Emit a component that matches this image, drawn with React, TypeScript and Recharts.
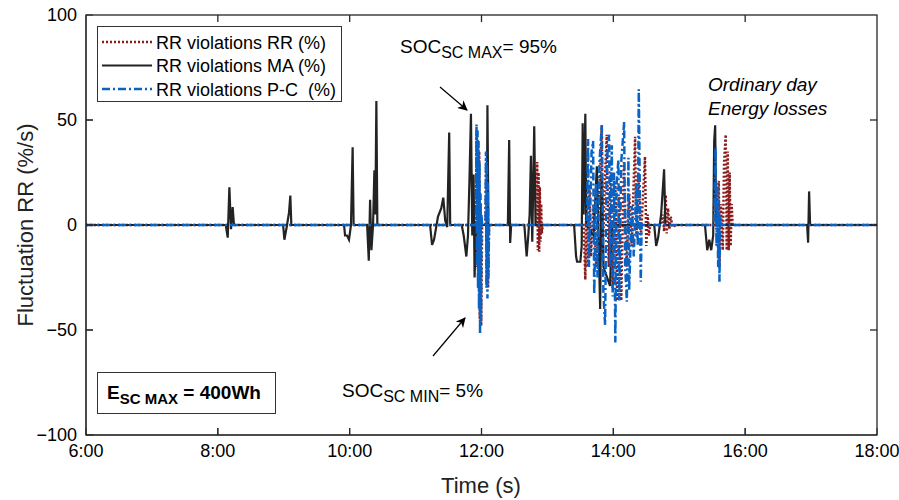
import React from "react";
import { LineChart, Line, XAxis, YAxis } from "recharts";

// time of day (h) / fluctuation (%/s)
const hourTicks = [6, 8, 10, 12, 14, 16, 18];
const rrTicks = [-100, -50, 0, 50, 100];

const maSeries: [number, number][] = [
  [6, 0],
  [8.12, 0], [8.15, -6], [8.175, 18], [8.2, -2], [8.225, 8.5], [8.245, 0],
  [8.99, 0], [9.01, -7], [9.05, 0], [9.08, 6], [9.1, 14], [9.115, 0],
  [9.915, 0], [9.93, -5], [9.96, -5], [9.99, -7], [10.02, 0], [10.045, 37], [10.06, 0],
  [10.265, 0], [10.29, -17], [10.31, 12], [10.33, -12], [10.355, 0], [10.375, 26], [10.39, 5], [10.405, 59], [10.42, 0],
  [11.22, 0], [11.25, -9.5], [11.28, -7], [11.34, 4], [11.39, 8], [11.42, 13], [11.45, 2], [11.48, -1], [11.51, 44], [11.525, 0],
  [11.7, 0], [11.73, -5], [11.77, -15], [11.795, -5], [11.82, 25], [11.84, 53], [11.86, -5], [11.88, 24], [11.895, -25], [11.92, 0],
  [12.07, 0], [12.08, -9], [12.09, 57], [12.105, 0],
  [12.4, 0], [12.42, 40.5], [12.435, -8.6], [12.45, 0],
  [12.65, 0], [12.685, -15], [12.71, -5], [12.73, 5], [12.75, 33], [12.77, -8], [12.8, 47], [12.82, 0],
  [13.405, 0], [13.435, -15], [13.45, -17.5], [13.5, -17.5], [13.52, -10], [13.535, 48.5], [13.55, 5], [13.575, 53], [13.59, 0],
  [13.7, -5], [13.75, 28], [13.8, -40], [13.82, 25], [13.85, -20], [13.95, -29], [13.98, 0],
  [14.62, 0], [14.65, -10], [14.68, -6], [14.725, 5], [14.77, 26.5], [14.79, 0],
  [15.39, 0], [15.425, -12], [15.455, -7], [15.485, -12], [15.515, -5], [15.53, 40], [15.545, 47.5], [15.56, 0],
  [16.94, 0], [16.955, -8.4], [16.97, 16], [16.985, 0],
  [18, 0],
];

const pcSeries: [number, number][] = [
  [6, 0],
  [11.915, 0], [11.925, 48], [11.93, -20], [11.94, 45], [11.947, -30], [11.955, 40], [11.962, -40], [11.97, 30], [11.978, -52], [11.985, 15], [11.993, -45], [12.0, 5], [12.01, 0],
  [12.06, 0], [12.068, 35], [12.075, -30], [12.082, 30], [12.09, -35], [12.097, 20], [12.105, -25], [12.115, 0],
  [13.6, 0], [13.617, 41], [13.63, -20], [13.67, 35], [13.693, 40], [13.71, -33], [13.74, 20], [13.76, -25], [13.79, 30], [13.825, 47.6],
  [13.85, -33], [13.875, -47.6], [13.9, 30], [13.936, 43], [13.95, -20], [13.977, 38], [13.99, -34], [14.01, 25], [14.03, -56], [14.05, 20],
  [14.077, 31], [14.09, -36], [14.12, 30], [14.164, 49], [14.18, -20], [14.205, -36.5], [14.229, 32], [14.24, -31], [14.28, 9], [14.31, -15],
  [14.35, 20], [14.37, -10], [14.386, 64.6], [14.416, -27], [14.43, 0],
  [15.53, 0], [15.55, 37], [15.565, -10], [15.575, 20], [15.59, -20], [15.6, 12], [15.61, -27], [15.62, 5], [15.63, 0],
  [18, 0],
];

const rrSeries: [number, number][] = [
  [6, 0],
  [11.915, 0], [11.925, 45], [11.935, -20], [11.945, 40], [11.955, -30], [11.965, 35], [11.975, -45], [11.985, 10], [11.995, -48], [12.01, 0],
  [12.06, 0], [12.07, 30], [12.08, -28], [12.09, 25], [12.1, -30], [12.115, 0],
  [12.83, 0], [12.845, 30], [12.855, -12], [12.865, 25], [12.875, -12.7], [12.885, 18], [12.895, -8], [12.905, 10], [12.915, -4], [12.93, 0],
  [13.55, 0], [13.575, -26], [13.59, 10], [13.61, -20], [13.64, 16.7], [13.66, -15], [13.7, 10], [13.74, -20], [13.8, 25], [13.825, 47.6],
  [13.84, -17], [13.87, 20], [13.9, 43], [13.93, -20], [13.96, 25], [13.99, -30], [14.03, 20], [14.06, -36], [14.09, 13.5], [14.12, -36],
  [14.16, 30], [14.2, -20], [14.24, 15], [14.28, -10], [14.33, 42], [14.35, -5.6], [14.38, 25], [14.42, -5], [14.48, 32.5], [14.5, -10],
  [14.52, 5], [14.54, -5], [14.56, 0],
  [14.72, 0], [14.75, 5], [14.77, -3], [14.795, 14.3], [14.81, -4], [14.83, 8], [14.85, -2], [14.87, 4], [14.9, -1], [14.95, 0],
  [15.58, 0], [15.6, 21], [15.61, -20], [15.63, 10], [15.66, -12], [15.68, 30], [15.705, 43], [15.72, -12], [15.735, 35], [15.75, -12],
  [15.765, 25], [15.78, -10], [15.795, 10], [15.81, 0],
  [18, 0],
];

const legendNames = ["RR violations RR (%)", "RR violations MA (%)", "RR violations P-C  (%)"];

const RED = "#8c1c1c";
const BLACK = "#232323";
const BLUE = "#0a62c4";
const AXIS = "#262626";
const FONT = "'Liberation Sans', Arial, sans-serif";

// plot box (must match the chart margins below)
const PL = 86, PR = 877, PT = 15, PB = 435;
const px = (h: number) => PL + ((h - 6) / 12) * (PR - PL);
const py = (v: number) => PT + ((100 - v) / 200) * (PB - PT);

const toPoints = (s: [number, number][]) => s.map(([t, v]) => ({ t, v }));

const lineStyles = [
  { color: RED, dash: "2 2", width: 2.5 },
  { color: BLACK, dash: undefined, width: 2.2 },
  { color: BLUE, dash: "8 3 2 3", width: 2.5 },
];

function App() {
  const tickStyle = { fill: "#000", fontSize: 18, fontFamily: FONT };
  return (
    <div style={{ position: "absolute", left: 0, top: 0, width: 899, height: 500, background: "#fff" }}>
      <LineChart width={899} height={500} margin={{ top: PT, right: 899 - PR, left: PL - 50, bottom: 500 - PB - 30 }}>
        <XAxis
          xAxisId="b"
          dataKey="t"
          type="number"
          domain={[6, 18]}
          ticks={hourTicks}
          tickFormatter={(v: number) => `${v}:00`}
          height={30}
          stroke={AXIS}
          tickSize={-7}
          tickMargin={16}
          tick={tickStyle}
          allowDataOverflow
        />
        <YAxis
          yAxisId="l"
          type="number"
          domain={[-100, 100]}
          ticks={rrTicks}
          tickFormatter={(v: number) => (v < 0 ? `\u2212${-v}` : `${v}`)}
          width={50}
          stroke={AXIS}
          tickSize={-7}
          tickMargin={16}
          tick={tickStyle}
          allowDataOverflow
        />
        <Line xAxisId="b" yAxisId="l" data={toPoints(rrSeries)} dataKey="v" type="linear" dot={false} stroke={RED} strokeWidth={2.5} strokeDasharray="2 2" isAnimationActive={false} />
        <Line xAxisId="b" yAxisId="l" data={toPoints(maSeries)} dataKey="v" type="linear" dot={false} stroke={BLACK} strokeWidth={2.2} isAnimationActive={false} />
        <Line xAxisId="b" yAxisId="l" data={toPoints(pcSeries)} dataKey="v" type="linear" dot={false} stroke={BLUE} strokeWidth={2.5} strokeDasharray="8 3 2 3" isAnimationActive={false} />
      </LineChart>

      <svg width={899} height={500} style={{ position: "absolute", left: 0, top: 0, pointerEvents: "none" }} fontFamily={FONT}>
        <defs>
          <marker id="ah" markerWidth="10" markerHeight="10" refX="9" refY="5" orient="auto" markerUnits="userSpaceOnUse">
            <path d="M0,0 L10,5 L0,10 L3,5 Z" fill="#000" />
          </marker>
        </defs>
        {/* axes box with inward ticks on every side */}
        <rect x={PL} y={PT} width={PR - PL} height={PB - PT} fill="none" stroke={AXIS} strokeWidth={1.3} />
        {hourTicks.slice(1, -1).map((h) => (
          <g key={`xt${h}`}>
            <line x1={px(h)} x2={px(h)} y1={PT} y2={PT + 7} stroke={AXIS} strokeWidth={1.3} />
            <line x1={px(h)} x2={px(h)} y1={PB} y2={PB - 7} stroke={AXIS} strokeWidth={1.3} />
          </g>
        ))}
        {rrTicks.slice(1, -1).map((v) => (
          <g key={`yt${v}`}>
            <line x1={PR - 7} x2={PR} y1={py(v)} y2={py(v)} stroke={AXIS} strokeWidth={1.3} />
            <line x1={PL} x2={PL + 7} y1={py(v)} y2={py(v)} stroke={AXIS} strokeWidth={1.3} />
          </g>
        ))}

        <text transform="translate(33,225) rotate(-90)" textAnchor="middle" fontSize={22} fill="#222">Fluctuation RR (%/s)</text>
        <text x={481} y={493} textAnchor="middle" fontSize={22} fill="#222">Time (s)</text>

        <rect x={97.5} y={26.5} width={244} height={75} fill="#fff" stroke="#333" strokeWidth={1} />
        {legendNames.map((n, i) => (
          <g key={n}>
            <line x1={102} x2={152} y1={42 + i * 23.5} y2={42 + i * 23.5} stroke={lineStyles[i].color} strokeWidth={lineStyles[i].width} strokeDasharray={lineStyles[i].dash} />
            <text x={156} y={48.5 + i * 23.5} fontSize={18} fill="#000" style={{ whiteSpace: "pre" }}>{n}</text>
          </g>
        ))}

        <text x={400} y={53} fontSize={19} fill="#000">
          <tspan>SOC</tspan>
          <tspan dy={5} fontSize={16}>SC MAX</tspan>
          <tspan dy={-5}>= 95%</tspan>
        </text>
        <line x1={440} y1={87} x2={467} y2={110} stroke="#000" strokeWidth={1.2} markerEnd="url(#ah)" />

        <text x={342} y={397} fontSize={19} fill="#000">
          <tspan>SOC</tspan>
          <tspan dy={5} fontSize={16}>SC MIN</tspan>
          <tspan dy={-5}>= 5%</tspan>
        </text>
        <line x1={433} y1={356} x2={465} y2={318} stroke="#000" strokeWidth={1.2} markerEnd="url(#ah)" />

        <text x={708} y={91} fontSize={19} fontStyle="italic" fill="#000">Ordinary day</text>
        <text x={708} y={115} fontSize={19} fontStyle="italic" fill="#000">Energy losses</text>

        <rect x={97.5} y={372.5} width={178} height={41} fill="#fff" stroke="#333" strokeWidth={1} />
        <text x={107} y={399} fontSize={19} fontWeight="bold" fill="#000" style={{ whiteSpace: "pre" }}>
          <tspan>E</tspan>
          <tspan dy={5} fontSize={15}>SC MAX</tspan>
          <tspan dy={-5}> = 400Wh</tspan>
        </text>
      </svg>
    </div>
  );
}

export default App;
